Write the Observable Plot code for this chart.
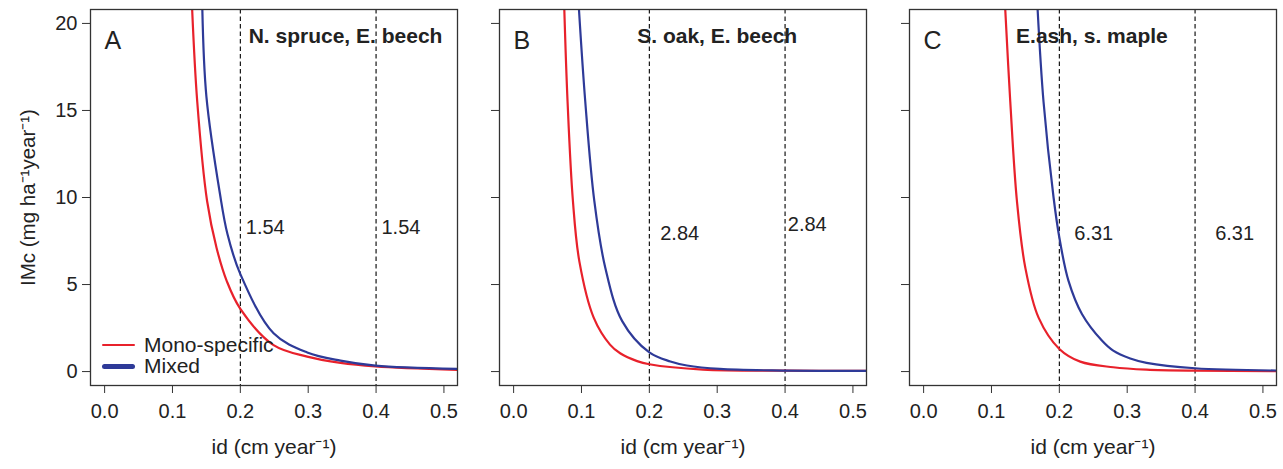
<!DOCTYPE html>
<html>
<head>
<meta charset="utf-8">
<script src="https://cdn.jsdelivr.net/npm/d3@7"></script>
<script src="https://cdn.jsdelivr.net/npm/@observablehq/plot@0.6"></script>
<style>
  html, body { margin: 0; padding: 0; background: #fff; }
  #wrap { position: relative; width: 1283px; height: 469px; overflow: hidden; background: #fff;
          font-family: "Liberation Sans", Arial, Helvetica, sans-serif; color: #222; }
  #wrap svg { position: absolute; top: 0; overflow: visible; }
  .legend { position: absolute; left: 102px; top: 334px; font-size: 21px; }
  .legend .row { position: relative; height: 21px; line-height: 21px; white-space: nowrap; }
  .legend .sw { position: absolute; left: 0; width: 33px; border-radius: 3px; }
  .legend .lab { position: absolute; left: 42px; top: 0; }
</style>
</head>
<body>
<div id="wrap"></div>
<script>
// ---- data ----
const panelLetters = ["A", "B", "C"];
const panelTitles = ["N. spruce, E. beech", "S. oak, E. beech", "E.ash, s. maple"];
const thresholdText = ["1.54", "2.84", "6.31"];
const xTicks = [0, 0.1, 0.2, 0.3, 0.4, 0.5];
const yTicks = [0, 5, 10, 15, 20];
const dashedAt = [0.2, 0.4];
const seriesNames = ["Mono-specific", "Mixed"];

// Panel A (N. spruce, E. beech)  [id, IMc]
const monoA = [[0.129, 20.8], [0.1365, 15.5], [0.151, 9.8], [0.165, 7.1], [0.18, 5.2], [0.2, 3.6],
               [0.249, 1.52], [0.2985, 0.86], [0.3476, 0.5], [0.399, 0.3], [0.52, 0.1]];
const mixedA = [[0.144, 20.8], [0.150, 15.8], [0.170, 10.2], [0.181, 7.9], [0.2, 5.6], [0.249, 2.2],
                [0.2985, 1.1], [0.3476, 0.63], [0.399, 0.34], [0.52, 0.15]];
// Panel B (S. oak, E. beech)
const monoB = [[0.0747, 20.8], [0.0795, 15.5], [0.0874, 9.8], [0.097, 6.3], [0.118, 3.1], [0.142, 1.55],
               [0.157, 1.05], [0.182, 0.6], [0.2, 0.42], [0.279, 0.11], [0.4, 0.05], [0.52, 0.04]];
const mixedB = [[0.0963, 20.8], [0.1056, 15.5], [0.1189, 9.8], [0.135, 5.98], [0.16, 2.9], [0.2, 1.1],
                [0.231, 0.58], [0.2554, 0.35], [0.304, 0.15], [0.4, 0.06], [0.52, 0.04]];
// Panel C (E. ash, s. maple)
const monoC = [[0.1203, 20.8], [0.1277, 15.5], [0.1375, 9.8], [0.1498, 5.98], [0.1694, 3.1], [0.2, 1.3],
               [0.2308, 0.57], [0.2794, 0.25], [0.3285, 0.11], [0.4, 0.05], [0.52, 0.03]];
const mixedC = [[0.168, 20.8], [0.1767, 15.5], [0.1915, 10.0], [0.2, 7.7], [0.2135, 5.21], [0.2333, 3.31],
                [0.2627, 1.78], [0.2794, 1.2], [0.3045, 0.75], [0.3285, 0.5], [0.4, 0.19], [0.52, 0.06]];

const mono = [monoA, monoB, monoC];
const mixed = [mixedA, mixedB, mixedC];

// annotation anchors in data units
const titleX = [0.355, 0.30, 0.248];
const titleY = 19.27;
const thresholdPos = [
  [[0.208, 8.27], [0.408, 8.27]],
  [[0.216, 7.93], [0.404, 8.44]],
  [[0.222, 7.93], [0.4296, 7.93]]
];

// ---- drawing ----
const RED = "#E8212B", BLUE = "#2E3A98";
const font = '"Liberation Sans", Arial, Helvetica, sans-serif';
const offsets = [0, 409.3, 819.3];
const wrap = document.getElementById("wrap");

function panel(i) {
  const thr = thresholdPos[i].map(([x, y]) => ({x, y, t: thresholdText[i]}));
  const marks = [
    Plot.ruleX(dashedAt, {stroke: "#000", strokeWidth: 1.1, strokeDasharray: "4.5,3"}),
    Plot.line(mono[i], {x: d => d[0], y: d => d[1], stroke: RED, strokeWidth: 2.2, curve: "catmull-rom", clip: true}),
    Plot.line(mixed[i], {x: d => d[0], y: d => d[1], stroke: BLUE, strokeWidth: 2.2, curve: "catmull-rom", clip: true}),
    Plot.frame({stroke: "#333", strokeWidth: 1.3}),
    Plot.axisX({ticks: xTicks, tickFormat: d3.format(".1f"), tickSize: 8, tickPadding: 10, label: null, stroke: "#333", fill: "#222"}),
    Plot.axisY({ticks: yTicks, tickSize: 8, tickPadding: 5, label: null, stroke: "#333", fill: "#222",
                tickFormat: i === 0 ? d3.format("d") : () => ""}),
    Plot.text([panelLetters[i]], {frameAnchor: "top-left", dx: 14, dy: 31, lineAnchor: "middle", textAnchor: "start",
                                  fontSize: 25, fill: "#222"}),
    Plot.text([panelTitles[i]], {x: () => titleX[i], y: () => titleY, fontWeight: "bold", fontSize: 21, fill: "#222"}),
    Plot.text(thr, {x: "x", y: "y", text: "t", textAnchor: "start", fontSize: 20, fill: "#222"}),
    Plot.text(["id (cm year\u207B\u00B9)"], {frameAnchor: "bottom", textAnchor: "middle", dy: 68, fontSize: 21, fill: "#222"})
  ];
  if (i === 0) {
    marks.push(Plot.text(["IMc (mg ha\u207B\u00B9year\u207B\u00B9)"],
      {frameAnchor: "left", textAnchor: "middle", lineAnchor: "middle", dx: -62, rotate: -90, fontSize: 20.5, fill: "#222"}));
  }
  const svg = Plot.plot({
    width: 460, height: 469,
    marginLeft: 90, marginRight: 3, marginTop: 9, marginBottom: 84,
    x: {domain: [-0.0208, 0.52]},
    y: {domain: [-0.8, 20.8]},
    style: {fontFamily: font, fontSize: "20px", color: "#222", background: "transparent", overflow: "visible"},
    marks
  });
  svg.style.left = offsets[i] + "px";
  return svg;
}

[0, 1, 2].forEach(i => wrap.appendChild(panel(i)));

// legend (panel A)
const legend = document.createElement("div");
legend.className = "legend";
[[seriesNames[0], RED, 2.2], [seriesNames[1], BLUE, 5]].forEach(([name, col, w]) => {
  const row = document.createElement("div");
  row.className = "row";
  const sw = document.createElement("div");
  sw.className = "sw";
  sw.style.background = col;
  sw.style.height = w + "px";
  sw.style.top = (11 - w / 2) + "px";
  const lab = document.createElement("div");
  lab.className = "lab";
  lab.textContent = name;
  row.appendChild(sw);
  row.appendChild(lab);
  legend.appendChild(row);
});
wrap.appendChild(legend);
</script>
</body>
</html>
